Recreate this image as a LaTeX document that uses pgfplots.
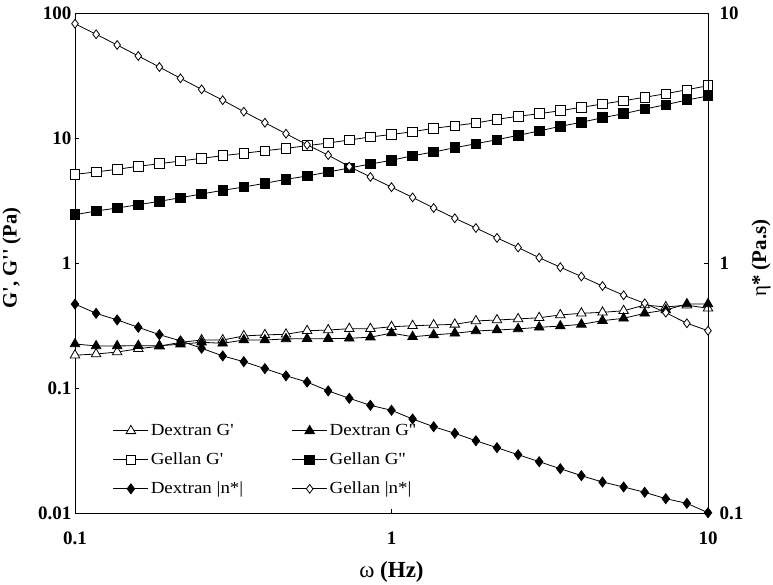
\documentclass[border=0pt]{standalone}
\usepackage{graphicx}
\usepackage{pgfplots}
\pgfplotsset{compat=1.18}
\usepackage{pgfplotstable}
\usepackage{fontspec}
\setmainfont{Liberation Serif}
\newfontfamily\tms{Liberation Serif}
\newfontfamily\tmsx{Liberation Serif}[FakeStretch=1.12]
\newcommand\legt[2]{\resizebox{#1}{!}{\tmsx #2}}

\pgfplotstableread{
x dGa dGb gGa gGb dn gn
0.1    0.183 0.225 5.12  2.435 0.685  9.06
0.1166 0.187 0.217 5.35  2.606 0.629  8.22
0.1359 0.194 0.217 5.62  2.754 0.592  7.45
0.1585 0.206 0.218 5.94  2.927 0.553  6.73
0.1848 0.216 0.218 6.23  3.116 0.517  6.08
0.2154 0.232 0.224 6.55  3.330 0.488  5.48
0.2512 0.242 0.232 6.88  3.565 0.456  4.95
0.2929 0.242 0.228 7.22  3.815 0.425  4.48
0.3415 0.261 0.242 7.55  4.055 0.403  4.03
0.3981 0.266 0.242 7.91  4.341 0.378  3.64
0.4642 0.269 0.247 8.27  4.673 0.354  3.29
0.5412 0.287 0.248 8.68  4.966 0.334  2.97
0.6310 0.291 0.248 9.12  5.346 0.308  2.70
0.7356 0.298 0.250 9.64  5.754 0.2875 2.43
0.8577 0.298 0.255 10.19 6.194 0.2697 2.21
1.0    0.309 0.275 10.67 6.631 0.2575 2.01
1.166  0.315 0.257 11.23 7.218 0.2377 1.83
1.359  0.319 0.266 11.96 7.727 0.2214 1.66
1.585  0.323 0.274 12.54 8.365 0.2084 1.51
1.848  0.344 0.286 13.18 9.003 0.1946 1.38
2.154  0.350 0.291 14.11 9.692 0.1825 1.26
2.512  0.357 0.297 14.92 10.51 0.1711 1.153
2.929  0.365 0.306 15.65 11.38 0.1604 1.050
3.415  0.384 0.313 16.54 12.41 0.1504 0.962
3.981  0.396 0.323 17.60 13.35 0.1410 0.883
4.642  0.403 0.346 18.71 14.54 0.1330 0.809
5.412  0.415 0.361 19.88 15.65 0.1271 0.743
6.310  0.461 0.396 21.17 17.06 0.1210 0.690
7.356  0.445 0.421 22.61 18.47 0.1141 0.633
8.577  0.460 0.470 24.34 20.14 0.1093 0.574
10     0.434 0.470 26.21 21.68 0.1003 0.536
}\data

\tikzset{myser/.style={black, line width=0.8bp, mark options={solid, line width=0.8bp}}}

\begin{document}
\begin{tikzpicture}
\useasboundingbox (-75bp,-72bp) rectangle (698bp,513bp);
\begin{axis}[
  scale only axis, width=633bp, height=500bp,
  xmode=log, ymode=log, xmin=0.1, xmax=10,
  ymin=0.01, ymax=100,
  clip=false,
  tick align=inside,
  major tick length=4bp,
  minor tick length=0pt,
  tick style={black, line width=0.6bp},
  axis line style={line width=0.8bp},
  xtick={0.1,1,10}, xticklabels={0.1,1,10},
  ytick={0.01,0.1,1,10,100}, yticklabels={0.01,0.1,1,10,100},
  xtick pos=bottom, ytick pos=left,
  ticklabel style={font=\tms\bfseries\fontsize{19bp}{23bp}\selectfont},
  xticklabel style={anchor=center, yshift=-25bp},
  xlabel={ω \textbf{(Hz)}},
  xlabel style={font=\tms\fontsize{23bp}{26bp}\selectfont, at={(axis description cs:0.5,-0.118)}, anchor=center},
  ylabel={\textbf{G', G'' (Pa)}},
  ylabel style={font=\tms\fontsize{20.5bp}{24bp}\selectfont, at={(axis description cs:-0.1,0.51)}, anchor=center},
  legend columns=2,
  legend cell align=left,
  legend style={draw=none, fill=none,
    at={(axis description cs:0.055,0.021)}, anchor=south west,
    row sep=6bp,
    nodes={text height=14bp, text depth=5bp},
    /tikz/every even column/.append style={column sep=46.5bp}},
  legend image code/.code={\draw[mark repeat=2, mark phase=2, #1] plot coordinates {(0bp,0bp) (17.5bp,0bp) (35bp,0bp)};},
]
\addplot[myser, mark=triangle*, mark size=5.5bp, mark options={fill=white}] table[x=x, y=dGa]{\data};
\addlegendentry{\legt{83bp}{Dextran G'}}
\addplot[myser, mark=triangle*, mark size=5.5bp, mark options={fill=black}] table[x=x, y=dGb]{\data};
\addlegendentry{\legt{86.4bp}{Dextran G''}}
\addplot[myser, mark=square*, mark size=4.8bp, mark options={fill=white}] table[x=x, y=gGa]{\data};
\addlegendentry{\legt{72.5bp}{Gellan G'}}
\addplot[myser, mark=square*, mark size=4.8bp, mark options={fill=black}] table[x=x, y=gGb]{\data};
\addlegendentry{\legt{75.9bp}{Gellan G''}}
\addlegendimage{myser, mark=diamond*, mark size=5bp, mark options={fill=black}}
\addlegendentry{\legt{92.5bp}{Dextran |n*|}}
\addlegendimage{myser, mark=diamond*, mark size=4.4bp, mark options={fill=white}}
\addlegendentry{\legt{81.9bp}{Gellan |n*|}}
\end{axis}
\begin{axis}[
  scale only axis, width=633bp, height=500bp,
  xmode=log, ymode=log, xmin=0.1, xmax=10,
  ymin=0.1, ymax=10,
  clip=false,
  axis x line=none, axis y line*=right,
  tick align=inside,
  major tick length=4bp,
  minor tick length=0pt,
  tick style={black, line width=0.6bp},
  axis line style={line width=0.8bp},
  ytick={0.1,1,10}, yticklabels={0.1,1,10},
  ticklabel style={font=\tms\bfseries\fontsize{19bp}{23bp}\selectfont},
  yticklabel style={xshift=8bp},
  ylabel={η\textbf{* (Pa.s)}},
  ylabel style={font=\tms\fontsize{21bp}{24bp}\selectfont, at={(axis description cs:1.0837,0.51)}, anchor=center},
]
\addplot[myser, mark=diamond*, mark size=5bp, mark options={fill=black}] table[x=x, y=dn]{\data};
\addplot[myser, mark=diamond*, mark size=4.4bp, mark options={fill=white}] table[x=x, y=gn]{\data};
\end{axis}
\end{tikzpicture}
\end{document}
